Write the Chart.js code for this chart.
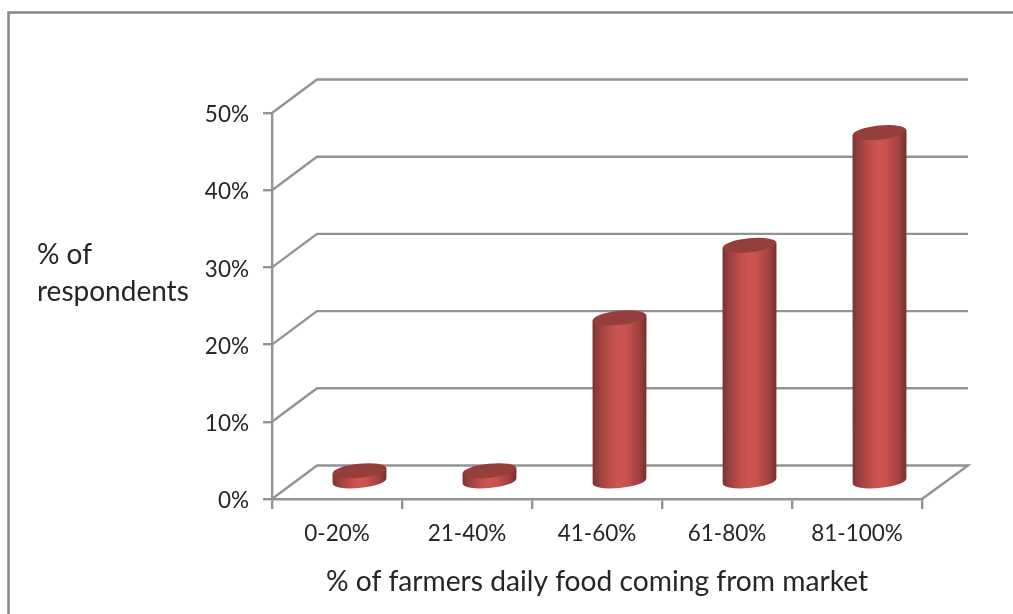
<!DOCTYPE html>
<html>
<head>
<meta charset="utf-8">
<style>
  html, body { margin: 0; padding: 0; background: #fff; overflow: hidden; }
  canvas { display: block; }
</style>
<script src="https://cdn.jsdelivr.net/npm/chart.js@4/dist/chart.umd.min.js"></script>
</head>
<body>
<canvas id="myChart" width="1013" height="614"></canvas>
<script>
const categories = ['0-20%', '21-40%', '41-60%', '61-80%', '81-100%'];
const respondents = [1.5, 1.5, 21.3, 30.7, 45.3];
const yTicks = [0, 10, 20, 30, 40, 50];

const GRID = '#939393';
const TEXT = '#262626';
const FONT = 'Lato';
// floor depth of the box
const DEPTH_X = 45;
const DEPTH_Y = 33.5;

// cylinder column: sits half way back in the box
function drawCylinder(ctx, el) {
    const cx = el.x + DEPTH_X / 2;
    const top = el.y - DEPTH_Y / 2;
    const base = el.base - DEPTH_Y / 2;
    const a = el.width / 2;
    const b = 7;
    const rot = -0.1;
    const t0 = Math.atan(b / a * Math.tan(-rot));
    const sideY = a * Math.cos(t0) * Math.sin(rot) + b * Math.sin(t0) * Math.cos(rot);

    const grad = ctx.createLinearGradient(cx - a, 0, cx + a, 0);
    grad.addColorStop(0, '#7a3331');
    grad.addColorStop(0.1, '#943f3c');
    grad.addColorStop(0.32, '#bd4d49');
    grad.addColorStop(0.47, '#cc5551');
    grad.addColorStop(0.62, '#c8524e');
    grad.addColorStop(0.86, '#a04240');
    grad.addColorStop(1, '#762f2d');

    ctx.save();
    ctx.beginPath();
    ctx.ellipse(cx, base, a, b, rot, t0, t0 + Math.PI);
    ctx.lineTo(cx - a, top - sideY);
    ctx.lineTo(cx + a, top + sideY);
    ctx.closePath();
    ctx.fillStyle = grad;
    ctx.fill();

    ctx.beginPath();
    ctx.ellipse(cx, top, a, b, rot, 0, Math.PI * 2);
    ctx.fillStyle = '#953e3b';
    ctx.fill();
    ctx.restore();
}

class CylinderController extends Chart.BarController {
    draw() {
        this.getMeta().data.forEach(el => drawCylinder(this.chart.ctx, el));
    }
}
CylinderController.id = 'cylinder';
CylinderController.defaults = Chart.BarController.defaults;
CylinderController.overrides = Chart.BarController.overrides;
Chart.register(CylinderController);

// back wall, side wall and floor lines, plus the outer border and the horizontal y title
const box3d = {
    id: 'box3d',
    beforeDatasetsDraw(chart) {
        const { ctx, scales: { x, y } } = chart;
        ctx.save();
        ctx.strokeStyle = GRID;
        ctx.lineWidth = 2.4;
        yTicks.forEach(v => {
            const py = y.getPixelForValue(v);
            ctx.beginPath();
            ctx.moveTo(x.left, py);
            ctx.lineTo(x.left + DEPTH_X, py - DEPTH_Y);
            ctx.lineTo(x.right + DEPTH_X + 1, py - DEPTH_Y);
            if (v === 0) ctx.lineTo(x.right, py);
            ctx.stroke();
        });
        ctx.restore();
    },
    afterDraw(chart) {
        const { ctx } = chart;
        ctx.save();
        ctx.strokeStyle = '#868686';
        ctx.lineWidth = 2.5;
        ctx.beginPath();
        ctx.moveTo(8.5, 614);
        ctx.lineTo(8.5, 12.5);
        ctx.lineTo(1013, 12.5);
        ctx.stroke();
        ctx.fillStyle = TEXT;
        ctx.font = '28px ' + FONT;
        ctx.textBaseline = 'middle';
        ctx.fillText('% of', 37, 255);
        ctx.fillText('respondents', 37, 292);
        ctx.restore();
    }
};

const ctx1 = document.getElementById('myChart').getContext('2d');
const myChart1 = new Chart(ctx1, {
    type: 'cylinder',
    data: {
        labels: categories,
        datasets: [{
            label: '% of respondents',
            data: respondents,
            backgroundColor: '#c0504d',
            categoryPercentage: 1,
            barPercentage: 0.415
        }]
    },
    options: {
        responsive: false,
        animation: false,
        layout: { padding: { top: 113, right: 91, left: 0, bottom: 0 } },
        plugins: { legend: { display: false }, tooltip: { enabled: false } },
        scales: {
            x: {
                afterFit(scale) { scale.height = 115; },
                grid: { drawOnChartArea: false, color: GRID, lineWidth: 2.4, tickLength: 10 },
                border: { color: GRID, width: 2.4 },
                ticks: { color: TEXT, padding: 11, maxRotation: 0, font: { family: FONT, size: 22.5 } },
                title: {
                    display: true,
                    text: '% of farmers daily food coming from market',
                    color: TEXT,
                    font: { family: FONT, size: 28.2 },
                    padding: { top: 0, bottom: 15 }
                }
            },
            y: {
                min: 0,
                max: 50,
                afterFit(scale) { scale.width = 272; },
                afterBuildTicks(scale) { scale.ticks = yTicks.map(value => ({ value })); },
                grid: { drawOnChartArea: false, color: GRID, lineWidth: 2.4, tickLength: 9 },
                border: { color: GRID, width: 2.4 },
                ticks: {
                    color: TEXT,
                    padding: 14,
                    labelOffset: 2,
                    font: { family: FONT, size: 22.5 },
                    callback: v => v + '%'
                }
            }
        }
    },
    plugins: [box3d]
});
</script>
</body>
</html>
